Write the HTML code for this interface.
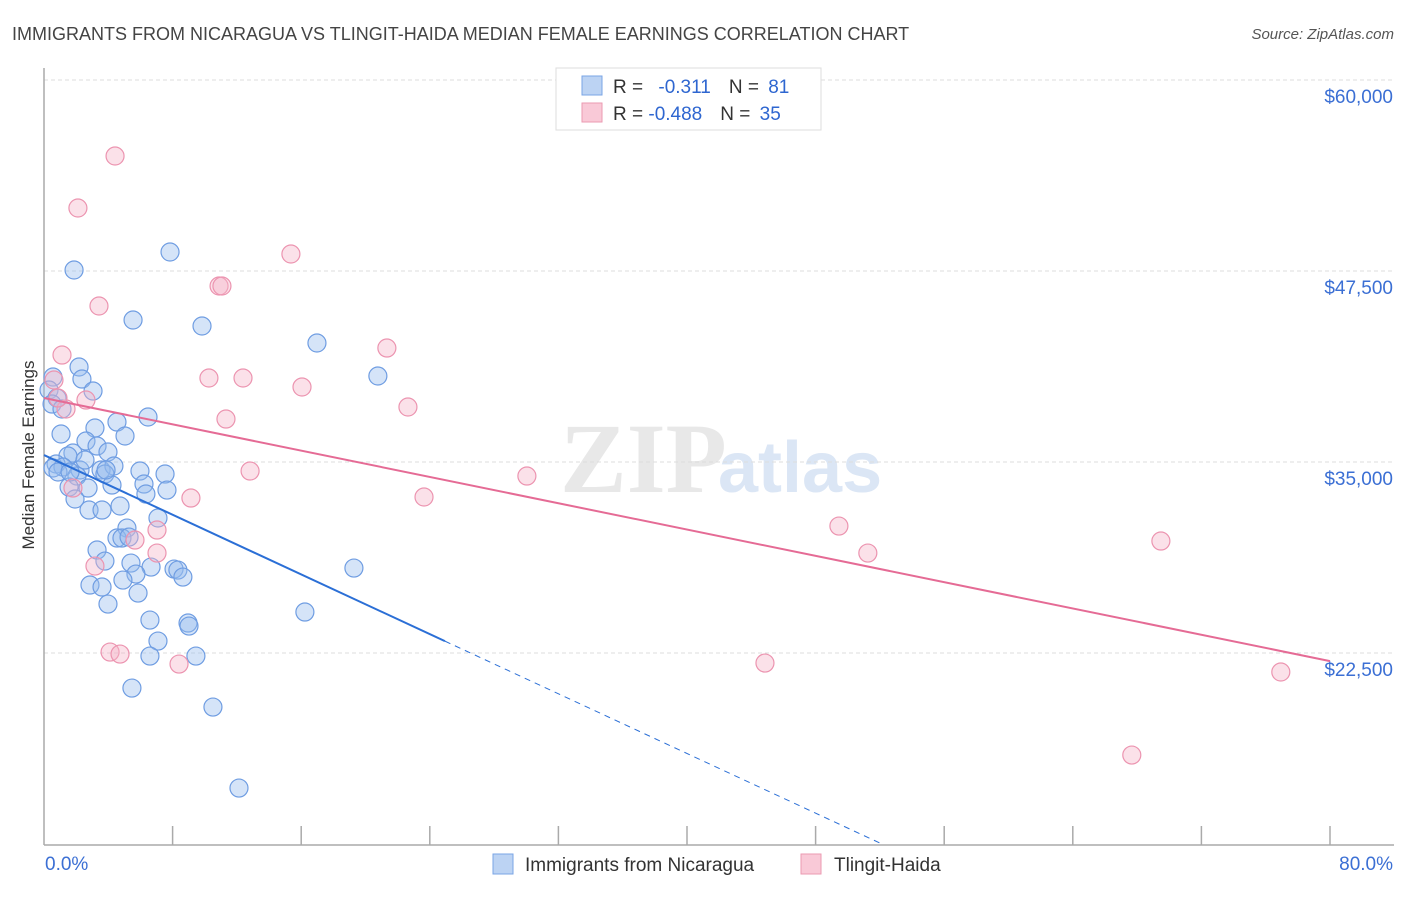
<!DOCTYPE html>
<html><head><meta charset="utf-8"><style>
body{margin:0;background:#fff;font-family:"Liberation Sans",sans-serif}
</style></head><body>
<svg id="c" width="1406" height="892" xmlns="http://www.w3.org/2000/svg">
<text x="12" y="40" font-size="18" fill="#444">IMMIGRANTS FROM NICARAGUA VS TLINGIT-HAIDA MEDIAN FEMALE EARNINGS CORRELATION CHART</text>
<text x="1394" y="39" font-size="15" fill="#555" font-style="italic" text-anchor="end">Source: ZipAtlas.com</text>
<text x="560" y="492" font-size="100" fill="#e8e8e8" font-family="Liberation Serif" font-weight="bold">ZIP</text>
<text x="718" y="492" font-size="72" fill="#dbe6f5" font-weight="bold">atlas</text>
<text transform="translate(34,455) rotate(-90)" font-size="17" fill="#333" text-anchor="middle">Median Female Earnings</text>
<g id="grid"></g><g id="pts"></g><g id="lines"></g>
<g>
<rect x="556" y="68" width="265" height="62" fill="#fff" stroke="#ddd"/>
<rect x="582" y="76" width="20" height="19" fill="#bcd3f3" stroke="#7aa5e6"/>
<rect x="582" y="103" width="20" height="19" fill="#f9c9d7" stroke="#eb9ab2"/>
<text x="613" y="93" font-size="19" fill="#333">R = <tspan fill="#2e66d0" dx="10">-0.311</tspan><tspan dx="18" fill="#333">N = </tspan><tspan fill="#2e66d0" dx="4">81</tspan></text>
<text x="613" y="120" font-size="19" fill="#333">R = <tspan fill="#2e66d0">-0.488</tspan><tspan dx="18" fill="#333">N = </tspan><tspan fill="#2e66d0" dx="4">35</tspan></text>
</g>
<g>
<rect x="493" y="854" width="20" height="20" fill="#bcd3f3" stroke="#7aa5e6"/>
<text x="525" y="871" font-size="19" fill="#333">Immigrants from Nicaragua</text>
<rect x="801" y="854" width="20" height="20" fill="#f9c9d7" stroke="#eb9ab2"/>
<text x="834" y="871" font-size="19" fill="#333">Tlingit-Haida</text>
</g>
</svg>
<script>
const yTicks=[60000,47500,35000,22500];
const yTickLabels=["$60,000","$47,500","$35,000","$22,500"];
const xTickLabels=["0.0%","80.0%"];
const blueX=[1.87,7.84,5.54,9.83,16.98,20.77,2.18,2.36,3.05,0.56,0.31,0.81,0.50,1.12,6.47,4.54,1.06,3.17,5.04,2.61,3.30,1.80,3.98,1.49,0.75,1.18,0.56,2.24,3.55,4.35,5.97,7.53,2.05,3.79,4.23,6.22,7.65,6.34,2.74,1.56,1.93,2.80,3.61,4.73,7.09,5.16,4.54,4.85,5.29,3.30,3.79,5.41,6.66,8.09,8.33,8.64,5.72,4.91,2.86,3.61,5.85,3.98,19.28,16.23,6.59,8.96,9.02,7.09,9.45,6.59,5.47,10.51,12.13,0.87,1.62,2.55,3.86];
const blueY=[47564,48742,44292,43899,42787,40627,41216,40430,39645,40561,39711,39187,38794,38467,37944,37616,36831,37223,36700,36372,36045,35587,35653,35391,34868,34671,34606,34475,34475,34737,34409,34213,34082,34213,33493,33558,33165,32904,33296,33362,32577,31857,31857,32119,31334,30678,30024,30024,30089,29239,28518,28387,28125,27994,27929,27471,27667,27275,26948,26817,26424,25704,28060,25181,24657,24461,24264,23282,22301,22301,20206,18963,13662,34344,34344,35129,34475];
const pinkX=[4.42,2.11,15.36,3.42,10.89,11.07,1.12,21.33,0.62,10.26,12.38,16.05,1.37,2.61,22.64,11.32,12.82,30.04,9.14,23.64,1.80,49.45,7.03,5.66,7.03,51.25,69.48,3.17,4.11,4.73,8.40,44.85,76.94,67.67,0.87];
const pinkY=[55026,51622,48612,45208,46517,46517,42001,42459,40365,40496,40496,39907,38467,39056,38598,37812,34409,34082,32642,32708,33296,30809,30548,29893,29042,29042,29828,28191,22562,22432,21777,21843,21255,15821,39187];
const blueTrend=[35456,-488.3], blueSolidEnd=24.94, blueDashEnd=52.0;
const pinkTrend=[39187,-215.2];
const NS="http://www.w3.org/2000/svg";
const X=v=>44+v*1286/80, Y=v=>80+(60000-v)*191/12500;
function mk(t,a,p){const e=document.createElementNS(NS,t);for(const k in a)e.setAttribute(k,a[k]);p.appendChild(e);return e;}
const g=document.getElementById('grid');
yTicks.forEach((v,i)=>{
 const l=mk('line',{x1:44,x2:1394,y1:Y(v),y2:Y(v),stroke:'#ddd','stroke-dasharray':'4,3'},g);
 
 
 const t=mk('text',{x:1393,y:Y(v)+23,'font-size':19,fill:'#3b6fd4','text-anchor':'end'},g);t.textContent=yTickLabels[i];
 
 
});
mk('line',{x1:44,x2:44,y1:68,y2:845,stroke:'#aaa','stroke-width':1.5},g);
mk('line',{x1:44,x2:1394,y1:845,y2:845,stroke:'#aaa','stroke-width':1.5},g);
for(let i=1;i<=10;i++){const l=mk('line',{x1:X(i*8),x2:X(i*8),y1:826,y2:845,stroke:'#aaa','stroke-width':1.5},g);
 
 }
let t1=mk('text',{x:45,y:870,'font-size':19,fill:'#3b6fd4'},g);t1.textContent=xTickLabels[0];


let t2=mk('text',{x:1393,y:870,'font-size':19,fill:'#3b6fd4','text-anchor':'end'},g);t2.textContent=xTickLabels[1];


const p=document.getElementById('pts');
blueX.forEach((x,i)=>{const c=mk('circle',{cx:X(x),cy:Y(blueY[i]),r:9,fill:'rgba(150,188,238,0.4)',stroke:'#6f9de2','stroke-width':1.2},p);
 
 });
pinkX.forEach((x,i)=>{const c=mk('circle',{cx:X(x),cy:Y(pinkY[i]),r:9,fill:'rgba(246,180,200,0.4)',stroke:'#ec94b0','stroke-width':1.2},p);
 
 });
const L=document.getElementById('lines');
const bt=x=>blueTrend[0]+blueTrend[1]*x, pt=x=>pinkTrend[0]+pinkTrend[1]*x;
let a=mk('line',{x1:X(0),y1:Y(bt(0)),x2:X(blueSolidEnd),y2:Y(bt(blueSolidEnd)),stroke:'#2b6fd6','stroke-width':2},L);


let b=mk('line',{x1:X(blueSolidEnd),y1:Y(bt(blueSolidEnd)),x2:X(blueDashEnd),y2:Y(bt(blueDashEnd)),stroke:'#2b6fd6','stroke-width':1,'stroke-dasharray':'6,5'},L);


let c=mk('line',{x1:X(0),y1:Y(pt(0)),x2:X(80),y2:Y(pt(80)),stroke:'#e56b95','stroke-width':2},L);


</script>
</body></html>
